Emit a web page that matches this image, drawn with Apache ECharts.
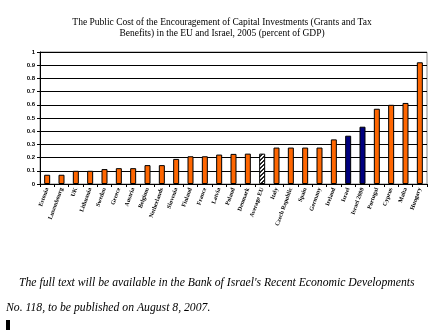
<!DOCTYPE html>
<html><head><meta charset="utf-8">
<script src="https://cdn.jsdelivr.net/npm/echarts@6/dist/echarts.min.js"></script>
<style>html,body{margin:0;padding:0;background:#fff}#c{width:444px;height:331px}</style>
</head><body><div id="c"></div>
<script>
const categories = ["Estonia","Luxembourg","UK","Lithuania","Sweden","Greece","Austria","Belgium","Netherlands","Slovenia","Finland","France","Latvia","Poland","Denmark","Average EU","Italy","Czech Republic","Spain","Germany","Ireland","Israel","Israel 2000","Portugal","Cyprus","Malta","Hungary"];
const values = [0.07,0.07,0.10,0.10,0.113,0.12,0.12,0.143,0.143,0.19,0.21,0.21,0.223,0.228,0.23,0.23,0.276,0.276,0.276,0.276,0.338,0.366,0.434,0.57,0.60,0.614,0.922];
const barKinds = ["eu","eu","eu","eu","eu","eu","eu","eu","eu","eu","eu","eu","eu","eu","eu","avg","eu","eu","eu","eu","eu","il","il","eu","eu","eu","eu"];
const yTicks = ["0","0.1","0.2","0.3","0.4","0.5","0.6","0.7","0.8","0.9","1"];

const pc = document.createElement('canvas'); pc.width = 4; pc.height = 4;
const g = pc.getContext('2d');
g.fillStyle = '#fff'; g.fillRect(0,0,4,4);
g.fillStyle = '#222';
for (let i = 0; i < 4; i++) { g.fillRect(i, 3 - i, 1, 1); g.fillRect((i+1)%4, 3 - i, 1, 1); }
const colorMap = { eu: '#FF6600', il: '#000080', avg: { image: pc, repeat: 'repeat' } };

const chart = echarts.init(document.getElementById('c'), null, {renderer: 'canvas'});
chart.setOption({
  animation: false,
  title: {
    text: 'The Public Cost of the Encouragement of Capital Investments (Grants and Tax\nBenefits) in the EU and Israel, 2005 (percent of GDP)',
    left: 'center', top: 12,
    textStyle: { fontFamily: 'Liberation Serif', fontSize: 9.5, fontWeight: 'normal', color: '#000', lineHeight: 11 }
  },
  grid: { left: 40, right: 17, top: 52, bottom: 147, containLabel: false, show: true, borderColor: '#888', borderWidth: 1 },
  xAxis: {
    type: 'category', data: categories,
    axisLine: { lineStyle: { color: '#000', width: 1 } },
    axisTick: { show: true, alignWithLabel: false, length: 3, lineStyle: { color: '#000' } },
    axisLabel: { rotate: 70, interval: 0, fontSize: 6, fontFamily: 'Liberation Serif', fontWeight: 'bold', color: '#000', margin: 4 }
  },
  yAxis: {
    type: 'value', min: 0, max: 1, interval: 0.1,
    axisLine: { show: true, lineStyle: { color: '#000' } },
    axisTick: { show: true, length: 3, lineStyle: { color: '#000' } },
    axisLabel: { fontSize: 6, fontFamily: 'Liberation Sans', fontWeight: 'bold', color: '#000', margin: 5,
      formatter: (v) => yTicks[Math.round(v * 10)] },
    splitLine: { show: true, lineStyle: { color: '#000', width: 1 } }
  },
  series: [{
    type: 'bar', barWidth: 6,
    data: values.map((v, i) => ({ value: v, itemStyle: { color: colorMap[barKinds[i]], borderColor: '#000', borderWidth: 1 } }))
  }],
  graphic: [
    { type: 'text', left: 19, top: 277, style: { text: "The full text will be available in the Bank of Israel's Recent Economic Developments", font: 'italic 11.7px "Liberation Serif"', fill: '#000' } },
    { type: 'text', left: 6, top: 302, style: { text: 'No. 118, to be published on August 8, 2007.', font: 'italic 11.7px "Liberation Serif"', fill: '#000' } },
    { type: 'rect', left: 6, top: 320, shape: { width: 4, height: 10 }, style: { fill: '#000' } }
  ]
});
</script></body></html>
